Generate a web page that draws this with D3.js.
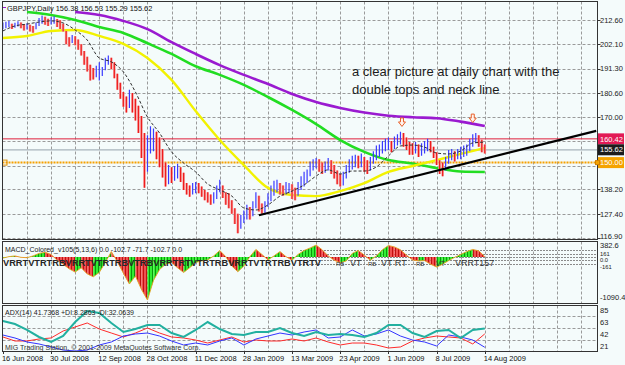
<!DOCTYPE html>
<html><head><meta charset="utf-8">
<script src="https://cdn.jsdelivr.net/npm/d3@7"></script>
<style>body{margin:0;background:#f4fbfb;} svg{display:block;font-family:"Liberation Sans",Arial,sans-serif;}</style>
</head><body><svg id="c" width="625" height="365"></svg>
<script>
// ---------- data ----------
const dateLabels = ["16 Jun 2008","30 Jul 2008","12 Sep 2008","28 Oct 2008","11 Dec 2008","28 Jan 2009","13 Mar 2009","23 Apr 2009","1 Jun 2009","8 Jul 2009","14 Aug 2009"];
const dateBars = [0,32,64,96,128,160,192,224,256,288,320];
const priceTicks = [212.6,202.1,191.3,180.6,170.0,159.3,148.7,138.2,127.4,116.9];
// labels of 159.30 and 148.70 are hidden behind the price boxes in the original
const priceTickLabels = ["212.60","202.10","191.30","180.60","170.00","","","138.20","127.40","116.90"];
// price bars, one entry per 2 trading days (bar index = 2*k)
const barHigh = [211.5,211.8,212.2,211.0,211.4,212.0,211.5,210.8,211.2,210.5,210.0,211.5,213.5,214.6,214.0,213.2,213.8,214.2,213.0,212.5,
211.0,207.8,205.0,206.0,205.5,204.0,202.0,199.0,196.5,193.0,191.5,192.5,194.0,192.0,196.0,197.0,196.0,194.0,189.0,185.0,
181.0,179.0,182.0,180.5,178.0,175.0,170.5,163.0,162.0,166.0,165.0,163.5,161.0,156.0,150.0,149.0,148.0,148.5,149.5,148.0,
145.5,141.0,140.0,141.0,141.5,141.0,139.5,138.0,137.0,136.0,137.0,140.0,142.5,140.0,137.0,136.5,133.5,130.0,127.5,127.0,
129.0,131.5,130.5,133.0,137.0,135.5,132.0,133.0,136.5,140.0,142.0,142.5,141.0,140.0,141.5,141.0,140.5,139.0,141.5,144.0,
146.0,147.0,150.5,151.5,152.0,151.5,150.0,150.5,152.0,151.0,149.0,146.5,145.0,146.0,149.0,151.5,153.0,153.5,153.0,154.0,
152.5,151.0,152.5,155.0,157.5,158.0,159.5,160.5,161.0,159.5,161.5,162.5,163.5,163.0,161.0,159.0,158.5,159.0,158.0,158.5,
159.5,160.5,159.5,157.0,154.5,151.0,150.0,152.5,155.5,156.0,155.0,156.0,157.0,157.5,158.0,160.5,162.5,163.0,162.0,160.0,158.0];
const barLow = [208.5,209.0,209.5,208.6,209.2,209.8,209.0,208.0,208.4,207.6,207.0,208.5,210.0,211.0,210.5,210.0,210.6,211.0,209.5,208.6,
207.5,202.0,201.0,202.5,201.5,199.5,197.0,193.0,190.0,186.0,186.5,187.5,186.0,188.0,190.5,193.0,191.0,187.0,182.0,178.0,
174.5,172.0,174.0,172.0,168.5,163.0,152.0,139.0,146.0,154.0,155.0,151.5,148.0,143.5,139.5,140.5,141.0,142.0,143.0,141.5,
138.0,136.0,135.0,136.0,136.5,136.5,135.0,133.5,132.5,131.5,132.0,134.0,137.0,134.5,131.5,130.0,127.5,123.0,119.0,121.0,
123.5,125.0,125.0,126.5,130.0,128.5,127.5,128.0,130.5,133.0,135.5,137.0,136.0,135.5,136.0,136.5,134.0,133.5,135.5,138.0,
139.5,141.0,144.0,146.5,147.5,146.0,145.0,145.5,146.5,145.0,143.0,140.5,139.5,140.0,143.0,145.5,147.0,148.0,147.5,148.0,
146.0,145.0,146.5,149.5,151.0,152.5,154.0,155.0,155.5,154.5,156.0,157.5,158.0,157.0,155.5,153.5,153.5,154.0,152.5,153.0,
154.0,155.0,154.5,152.0,149.0,145.0,144.0,146.5,149.5,151.0,150.5,151.5,151.5,152.5,153.0,155.0,157.0,158.5,157.0,154.5,154.0];
// moving averages
const maBars16 = [0,16,32,48,64,80,96,112,128,144,160,176,192,208,224,240,256,272,288,304,320];
const yellowMA = [204.7,205.6,207.8,208.2,205.6,202.1,195.9,186.3,172.6,159.9,148.9,138.9,135.8,135.3,137.5,141.0,145.9,148.5,151.1,153.8,156.4];
const greenMA  = [null,216.1,214.8,212.6,209.5,206.9,202.4,197.7,192.3,188.5,184.1,178.8,173.1,166.9,159.9,154.7,151.1,149.6,147.6,146.1,145.9];
const purpleMA = [null,null,null,216.1,214.8,212.2,208.6,202.9,197.7,192.8,188.5,184.5,180.1,176.6,174.0,172.0,170.6,169.9,169.5,168.0,166.1];
const blackMA = [207.8,210.0,210.8,211.7,212.2,211.3,208.2,203.8,195.9,194.2,189.8,181.0,170.0,163.0,154.7,149.8,145.9,140.6,138.0,135.3,
130.1,129.2,131.4,135.3,137.5,140.2,144.1,146.8,145.0,146.3,146.3,148.1,152.9,157.3,157.7,156.8,154.2,153.8,155.1,158.6,159.0];
const neckBars = [170, 394];
const neckPrices = [126.9, 163.9];
const arrowBars = [265, 312];
const arrowPrices = [169.6, 171.3];
const hLines = [160.42, 155.62, 150.00];
// MACD histogram, one entry per 4 trading days
const macdHist = [-23,11,28,-6,-14,28,88,114,63,-74,-168,-279,-356,-254,-399,-468,-365,-126,131,-108,
-382,-639,-450,-767,-1020,-553,-297,-168,-126,-254,-365,-254,-126,-91,-66,28,157,11,-211,-348,
-211,11,182,63,-66,28,131,11,-74,63,157,217,285,174,28,-74,-134,-91,88,157,
46,-74,28,174,276,242,174,46,-66,-91,-83,-168,-237,-168,-83,-6,63,131,182,148,11];
const macdLevels = [161, 80, 0, -80, -161];
const macdAxisVals = [382.6, 161, 0, -161, -1090.4];
const macdAxisLabels = ["382.6","161","0.0","-161","-1090.4"];
// ADX(14), one entry per 8 trading days
const adxLine = [54.9,49.6,39.0,26.6,17.7,28.3,53.1,72.6,69.1,51.4,35.4,40.7,47.8,47.8,33.6,26.6,39.0,53.1,40.7,31.9,
30.1,35.4,35.4,42.5,33.6,28.3,35.4,30.1,31.9,30.1,26.6,33.6,47.8,47.8,33.6,26.6,37.2,39.0,24.8,39.0,41.7];
const plusDI = [30.1,24.8,17.7,14.2,8.9,3.5,1.8,3.5,12.4,17.7,28.3,31.9,33.6,28.3,19.5,12.4,15.9,12.4,19.5,24.8,
12.4,23.0,28.3,33.6,30.1,35.4,39.0,24.8,26.6,39.0,28.3,31.9,39.0,28.3,21.2,17.7,10.6,30.1,26.6,21.2,8.3];
const minusDI = [26.6,19.5,19.5,23.0,24.8,37.2,44.3,51.4,40.7,33.6,26.6,33.6,42.5,33.6,26.6,24.8,21.2,15.9,21.2,26.6,
17.7,21.2,19.5,19.5,23.0,19.5,24.8,17.7,12.4,15.9,15.9,12.4,7.1,8.9,19.5,24.8,28.3,26.6,24.8,14.2,32.1];
const adxLevels = [21,42,63];
const adxAxisVals = [85,63,42,21];
const adxAxisLabels = ["85","63","42","21"];
// indicator tags printed in the MACD window
const tagBand = "VRRTVTRTRBVRRTVTRTRBVTRBVRRTRTVTRTRBVRRTVTRTRBVTRTV";
const tagX = [336,350,368,381,416,436,455];
const tagT = ["RB","VT","RB","VT RT","RB","VT","VRRT157"];
const tagS = [6,9,6,9,6,7,9];

// ---------- layout ----------
const svg = d3.select("#c");
const L = 2.5, R = 597.5;
const P = {main:[1.5,239.5], macd:[241.5,303.5], adx:[305.5,351.5]};
const x = d3.scaleLinear().domain([0,320]).range([2.9,484.8]);
const y = d3.scaleLinear().domain([116.9,212.6]).range([238,20]);
const yM = d3.scaleLinear().domain([-1090.4,382.6]).range([303,241]);
const yA = d3.scaleLinear().domain([0,85]).range([352,304]);
const gridBars = d3.range(16, 400, 16).filter(b => x(b) < R-2);

const defs = svg.append("defs");
Object.entries(P).forEach(([k,[t,b]]) => {
  defs.append("clipPath").attr("id","clip-"+k).append("rect").attr("x",L).attr("y",t).attr("width",R-L).attr("height",b-t);
});
const gp = defs.append("pattern").attr("id","gstripe").attr("width",3).attr("height",10).attr("patternUnits","userSpaceOnUse");
gp.append("rect").attr("width",3).attr("height",10).attr("fill","#33ee33");
gp.append("rect").attr("x",2).attr("width",1).attr("height",10).attr("fill","#0a9a0a");
const rp = defs.append("pattern").attr("id","rstripe").attr("width",3).attr("height",10).attr("patternUnits","userSpaceOnUse");
rp.append("rect").attr("width",3).attr("height",10).attr("fill","#f05050");
rp.append("rect").attr("x",2).attr("width",1).attr("height",10).attr("fill","#c01010");

svg.append("rect").attr("width",625).attr("height",365).attr("fill","#f4fbfb");

// grids
Object.entries(P).forEach(([k,[t,b]]) => {
  const g = svg.append("g").attr("stroke","#9a9a9a").attr("stroke-dasharray","3,2").attr("stroke-width",1);
  gridBars.forEach(bb => g.append("line").attr("x1",Math.round(x(bb))+0.5).attr("x2",Math.round(x(bb))+0.5).attr("y1",t).attr("y2",b));
});
const hg = svg.append("g").attr("stroke","#9a9a9a").attr("stroke-dasharray","3,2");
priceTicks.forEach(p => hg.append("line").attr("x1",L).attr("x2",R).attr("y1",Math.round(y(p))+0.5).attr("y2",Math.round(y(p))+0.5));
adxLevels.forEach(v => hg.append("line").attr("x1",L).attr("x2",R).attr("y1",Math.round(yA(v))+0.5).attr("y2",Math.round(yA(v))+0.5));
const mg = svg.append("g").attr("stroke","#8a8a8a").attr("stroke-dasharray","2,1");
macdLevels.forEach(v => mg.append("line").attr("x1",300).attr("x2",R).attr("y1",Math.round(yM(v))+0.5).attr("y2",Math.round(yM(v))+0.5));

// ---------- main panel ----------
const gm = svg.append("g").attr("clip-path","url(#clip-main)");
gm.append("line").attr("x1",L).attr("x2",R).attr("y1",y(hLines[0])).attr("y2",y(hLines[0])).attr("stroke","#e0203c").attr("stroke-width",1);
gm.append("line").attr("x1",L).attr("x2",R).attr("y1",y(hLines[1])).attr("y2",y(hLines[1])).attr("stroke","#a8b4bc").attr("stroke-width",1.2);
gm.append("line").attr("x1",L).attr("x2",R).attr("y1",y(hLines[2])).attr("y2",y(hLines[2])).attr("stroke","#f5a000").attr("stroke-width",2).attr("stroke-dasharray","2,1");
gm.append("rect").attr("x",2).attr("y",y(hLines[2])-2.5).attr("width",5).attr("height",5).attr("fill","none").attr("stroke","#e09000");

const lineP = (arr, bars) => d3.line().defined((d,i)=>d!=null).x((d,i)=>x(bars[i])).y(d=>y(d)).curve(d3.curveMonotoneX)(arr);
gm.append("path").attr("d",lineP(purpleMA,maBars16)).attr("fill","none").attr("stroke","#9a1ad0").attr("stroke-width",2.6);
gm.append("path").attr("d",lineP(greenMA,maBars16)).attr("fill","none").attr("stroke","#22dd22").attr("stroke-width",2.6);
gm.append("path").attr("d",lineP(yellowMA,maBars16)).attr("fill","none").attr("stroke","#f2f200").attr("stroke-width",2.4);

// bars
const gb = gm.append("g");
barHigh.forEach((h,k) => {
  const lo = barLow[k], bx = x(2*k);
  const prevMid = k>0 ? (barHigh[k-1]+barLow[k-1])/2 : (h+lo)/2;
  const up = (h+lo)/2 >= prevMid;
  if (!up) gb.append("line").attr("x1",bx).attr("x2",bx).attr("y1",y(h)).attr("y2",y(lo)).attr("stroke","#f6a0a0").attr("stroke-width",2.6);
  gb.append("line").attr("x1",bx).attr("x2",bx).attr("y1",y(h)).attr("y2",y(lo)).attr("stroke",up?"#3a3aff":"#ee1c1c").attr("stroke-width",1.2);
});
const blackBars = blackMA.map((d,i)=>i*8);
gm.append("path").attr("d",lineP(blackMA,blackBars)).attr("fill","none").attr("stroke","#303030").attr("stroke-width",1).attr("stroke-dasharray","3,2");

// neck line
gm.append("line").attr("x1",x(neckBars[0])).attr("y1",y(neckPrices[0])).attr("x2",x(neckBars[1])).attr("y2",y(neckPrices[1]))
  .attr("stroke","#000").attr("stroke-width",2.2);

// arrows
arrowBars.forEach((b,i) => {
  const cx = x(b), ty = y(arrowPrices[i]);
  const pth = `M${cx-1.5},${ty} h3 v4 h2 l-3.5,4.5 l-3.5,-4.5 h2 z`;
  gm.append("path").attr("d",pth).attr("fill","#fff4ee").attr("stroke","#e8602a").attr("stroke-width",1);
});

// annotation
const ann = svg.append("text").attr("x",352).attr("y",76).attr("font-size",13).attr("fill","#1c1c1c");
ann.append("tspan").attr("x",352).attr("y",76).text("a clear picture at daily chart with the");
ann.append("tspan").attr("x",352).attr("y",94).text("double tops and neck line");

// title
svg.append("line").attr("x1",3).attr("x2",6).attr("y1",7.5).attr("y2",7.5).attr("stroke","#9a1ad0").attr("stroke-width",1);
svg.append("text").attr("x",7).attr("y",10.5).attr("font-size",7.4).attr("fill","#111").text("GBPJPY,Daily  156.38 156.53 155.29 155.62");

// ---------- MACD ----------
const gM = svg.append("g").attr("clip-path","url(#clip-macd)");
const xm = i => x(i*4);
for (let i=0;i<macdHist.length-1;i++){
  const a = macdHist[i], b = macdHist[i+1];
  const pts = [[xm(i),yM(0)],[xm(i),yM(a)],[xm(i+1),yM(b)],[xm(i+1),yM(0)]];
  gM.append("path").attr("d","M"+pts.map(p=>p.join(",")).join("L")+"Z").attr("fill", b>=a ? "url(#gstripe)" : "url(#rstripe)");
}
gM.append("path").attr("d",d3.line().x((d,i)=>xm(i)).y(d=>yM(d))(macdHist)).attr("fill","none").attr("stroke","#e8a020").attr("stroke-width",0.9);
svg.append("text").attr("x",5).attr("y",251.5).attr("font-size",7).attr("fill","#222").text("MACD_Colored_v105(5,13,6) 0.0 -102.7 -71.7 -102.7 0.0");
svg.append("text").attr("x",3).attr("y",266).attr("font-size",8.5).attr("font-weight","bold").attr("fill","#262626")
  .attr("textLength",318).attr("lengthAdjust","spacingAndGlyphs").text(tagBand);
tagX.forEach((tx,i)=>svg.append("text").attr("x",tx).attr("y",266).attr("font-size",tagS[i]).attr("fill","#333").text(tagT[i]));

// ---------- ADX ----------
const gA = svg.append("g").attr("clip-path","url(#clip-adx)");
const adxBars = adxLine.map((d,i)=>i*8);
const lineA = arr => d3.line().x((d,i)=>x(adxBars[i])).y(d=>yA(d))(arr);
gA.append("path").attr("d",lineA(minusDI)).attr("fill","none").attr("stroke","#ff2a2a").attr("stroke-width",1);
gA.append("path").attr("d",lineA(plusDI)).attr("fill","none").attr("stroke","#3333ff").attr("stroke-width",1);
gA.append("path").attr("d",lineA(adxLine)).attr("fill","none").attr("stroke","#22b0a0").attr("stroke-width",2);
svg.append("text").attr("x",5).attr("y",315).attr("font-size",7).attr("fill","#222").text("ADX(14) 41.7368 +DI:8.2863 -DI:32.0639");
svg.append("text").attr("x",5).attr("y",350).attr("font-size",7).attr("fill","#333").text("MIG Trading Station, © 2001-2009 MetaQuotes Software Corp.");

// ---------- borders ----------
Object.values(P).forEach(([t,b]) => svg.append("rect").attr("x",L).attr("y",t).attr("width",R-L).attr("height",b-t).attr("fill","none").attr("stroke","#333").attr("stroke-width",1));

// ---------- right axes ----------
const ax = svg.append("g").attr("font-size",7.5).attr("fill","#222");
priceTicks.forEach((p,i) => {
  ax.append("line").attr("x1",R).attr("x2",R+3).attr("y1",Math.round(y(p))+0.5).attr("y2",Math.round(y(p))+0.5).attr("stroke","#333");
  if (priceTickLabels[i]) ax.append("text").attr("x",600).attr("y",Math.min(y(p)+2.7,239)).text(priceTickLabels[i]);
});
const boxes = [[hLines[0],"160.42","#e21a55"],[hLines[1],"155.62","#1c1c1c"],[hLines[2],"150.00","#f5a300"]];
boxes.forEach(([p,t,c]) => {
  ax.append("rect").attr("x",598).attr("y",y(p)-5.5).attr("width",26).attr("height",11).attr("fill",c);
  ax.append("text").attr("x",600).attr("y",y(p)+2.7).attr("fill","#fff").text(t);
});
ax.append("rect").attr("x",595.5).attr("y",y(hLines[2])-2).attr("width",4).attr("height",4).attr("fill","#f5a300").attr("stroke","#d08000");
const macdLabY = [248, 255.5, 262.2, 268.9, 299.5];
macdAxisVals.forEach((v,i) => ax.append("text").attr("x",600).attr("y",macdLabY[i]).attr("font-size",i>0&&i<4?5.8:7.5).text(macdAxisLabels[i]));
adxAxisVals.forEach((v,i) => ax.append("text").attr("x",600).attr("y",Math.min(yA(v),350)+8.5).text(adxAxisLabels[i]));

// ---------- x axis ----------
const xa = svg.append("g").attr("font-size",7.5).attr("fill","#111");
dateBars.forEach((b,i) => {
  xa.append("line").attr("x1",Math.round(x(b))+0.5).attr("x2",Math.round(x(b))+0.5).attr("y1",351.5).attr("y2",354).attr("stroke","#333");
  xa.append("text").attr("x",x(b)-1).attr("y",361).text(dateLabels[i]);
});
</script></body></html>
